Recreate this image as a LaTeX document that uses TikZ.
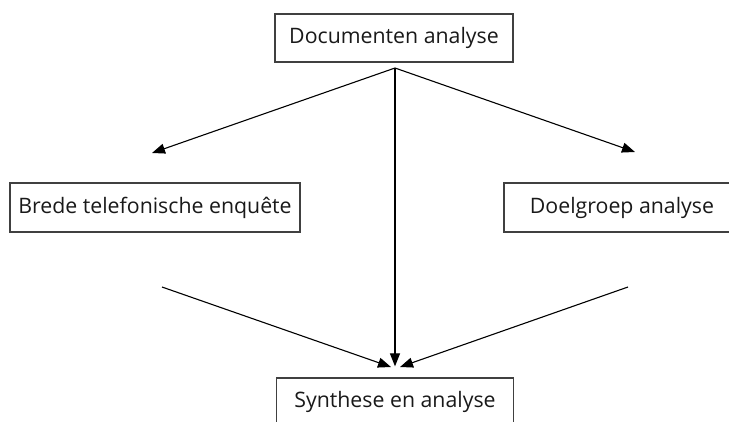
\documentclass[tikz,border=0pt]{standalone}
\usepackage{fontspec}
\setmainfont{Open Sans}
\usepackage{tikz}
\usetikzlibrary{arrows.meta,positioning,calc}

\begin{document}
\begin{tikzpicture}[x=1pt,y=-1pt,
    blok/.style={draw=black!75,line width=1.2pt,font=\fontsize{21.3}{25}\selectfont,
        minimum height=48pt,inner sep=0pt,text=black!90},
    pijl/.style={line width=1.1pt,-{Triangle[length=13pt,width=10pt]}},
    lijn/.style={line width=1.1pt}]
\useasboundingbox (0,0) rectangle (729,421);

% Boxes
\node[blok,minimum width=238pt] (doc) at (394,38) {Documenten analyse};
\node[blok,minimum width=290pt,minimum height=49pt] (brede) at (155,207.5) {Brede telefonische enquête};
\node[blok,minimum width=236pt,minimum height=49pt] (doel) at (622,207.5) {Doelgroep analyse};
\node[blok,minimum width=237pt] (syn) at (395,402) {Synthese en analyse};

% Free ends of the connectors
\coordinate (split) at (395,68);
\coordinate (linksboven) at (152,153);
\coordinate (rechtsboven) at (635,152);
\coordinate (linksonder) at (162,287);
\coordinate (rechtsonder) at (628,287);
\coordinate (linkstip) at (391,367);
\coordinate (rechtstip) at (400,367);

% Connectors from the top box
\draw[pijl] (split) -- (linksboven);
\draw[pijl] (split) -- (rechtsboven);
\draw[pijl,shorten >=11pt] (split) -- (syn.north);

% Connectors to the bottom box
\draw[pijl] (linksonder) -- (linkstip);
\draw[pijl] (rechtsonder) -- (rechtstip);

\end{tikzpicture}
\end{document}
